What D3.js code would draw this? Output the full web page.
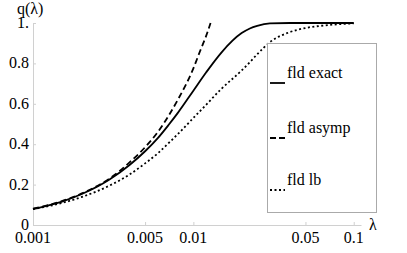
<!DOCTYPE html>
<html>
<head>
<meta charset="utf-8">
<script src="https://cdn.jsdelivr.net/npm/d3@7"></script>
<style>
html, body, svg, text { font-family: "Times New Roman", "Liberation Serif", Tinos, serif; }
</style>
</head>
<body style="margin:0">
<svg id="chart" width="407" height="253"></svg>
<script>
// q(lambda) curves
var lam = [0.001, 0.0015, 0.002, 0.003, 0.004, 0.005, 0.006, 0.007, 0.008, 0.01, 0.012, 0.015, 0.02, 0.0225, 0.025, 0.03, 0.04, 0.05, 0.07, 0.1];
var exact = [0.079, 0.115, 0.152, 0.225, 0.297, 0.365, 0.43, 0.495, 0.555, 0.665, 0.755, 0.855, 0.95, 0.973, 0.986, 0.998, 1, 1, 1, 1];
var lb = [0.079, 0.108, 0.138, 0.195, 0.25, 0.305, 0.355, 0.405, 0.45, 0.53, 0.595, 0.675, 0.765, 0.806, 0.845, 0.905, 0.955, 0.975, 0.99, 0.998];

var lamAsymp = [0.001, 0.0015, 0.002, 0.003, 0.004, 0.005, 0.006, 0.007, 0.008, 0.01, 0.011, 0.012, 0.0128];
var asymp = [0.081, 0.117, 0.155, 0.23, 0.31, 0.385, 0.46, 0.54, 0.62, 0.775, 0.86, 0.935, 1.0];

var xTicks = [0.001, 0.005, 0.01, 0.05, 0.1];
var xTickLabels = ["0.001", "0.005", "0.01", "0.05", "0.1"];
var yTicks = [0, 0.2, 0.4, 0.6, 0.8, 1];
var yTickLabels = ["0", "0.2", "0.4", "0.6", "0.8", "1."];

var series = [
    {name: "fld exact", x: lam, y: exact, dash: null},
    {name: "fld asymp", x: lamAsymp, y: asymp, dash: "6,3.5"},
    {name: "fld lb", x: lam, y: lb, dash: "2,2.5"}
];

var svg = d3.select("#chart");

var x = d3.scaleLog().domain([0.001, 0.111]).range([33, 361]);
var y = d3.scaleLinear().domain([0, 1]).range([225, 23]);

// plain text helper, serif like the reference
function label(px, py, str, anchor) {
    return svg.append("text")
        .attr("x", px).attr("y", py)
        .attr("text-anchor", anchor || "start")
        .style("font-family", "'Times New Roman', 'Liberation Serif', serif")
        .style("font-size", "16px")
        .text(str);
}

// axes: lines and ticks from d3, labels drawn separately
var xAxis = d3.axisBottom(x)
    .tickValues(xTicks)
    .tickFormat("")
    .tickSizeInner(-3).tickSizeOuter(0);
var yAxis = d3.axisLeft(y)
    .tickValues(yTicks)
    .tickFormat("")
    .tickSizeInner(-3).tickSizeOuter(0);

var gx = svg.append("g")
    .attr("transform", "translate(0,225)")
    .call(xAxis);
var gy = svg.append("g")
    .attr("transform", "translate(33,0)")
    .call(yAxis);

[gx, gy].forEach(function(g) {
    g.attr("font-family", null);
    g.select(".domain").attr("stroke", "#d0d0d0");
    g.selectAll(".tick line").attr("stroke", "#d0d0d0");
    g.selectAll(".tick text").remove();
});

xTicks.forEach(function(t, i) { label(x(t), 243, xTickLabels[i], "middle"); });
yTicks.forEach(function(t, i) { label(29, y(t) + 5, yTickLabels[i], "end"); });

label(17, 14, "q(λ)");
label(369, 230, "λ");

// curves
var line = d3.line()
    .x(function(d) { return x(d[0]); })
    .y(function(d) { return y(d[1]); })
    .curve(d3.curveMonotoneX);

series.forEach(function(s) {
    var pts = s.x.map(function(v, i) { return [v, s.y[i]]; });
    svg.append("path")
        .datum(pts)
        .attr("fill", "none")
        .attr("stroke", "#000")
        .attr("stroke-width", 1.8)
        .attr("stroke-dasharray", s.dash)
        .attr("d", line);
});

// legend
svg.append("rect")
    .attr("x", 267.5).attr("y", 43.5)
    .attr("width", 109).attr("height", 169)
    .attr("fill", "#fff")
    .attr("stroke", "#aaa")
    .attr("stroke-width", 1);

var legY = [83, 138, 190];
series.forEach(function(s, i) {
    svg.append("line")
        .attr("x1", 270).attr("x2", 285)
        .attr("y1", legY[i]).attr("y2", legY[i])
        .attr("stroke", "#000")
        .attr("stroke-width", 1.8)
        .attr("stroke-dasharray", s.dash == null ? null : (i == 1 ? "6,3" : "2,2.5"));
    label(287, legY[i] - 5, s.name);
});
</script>
</body>
</html>
